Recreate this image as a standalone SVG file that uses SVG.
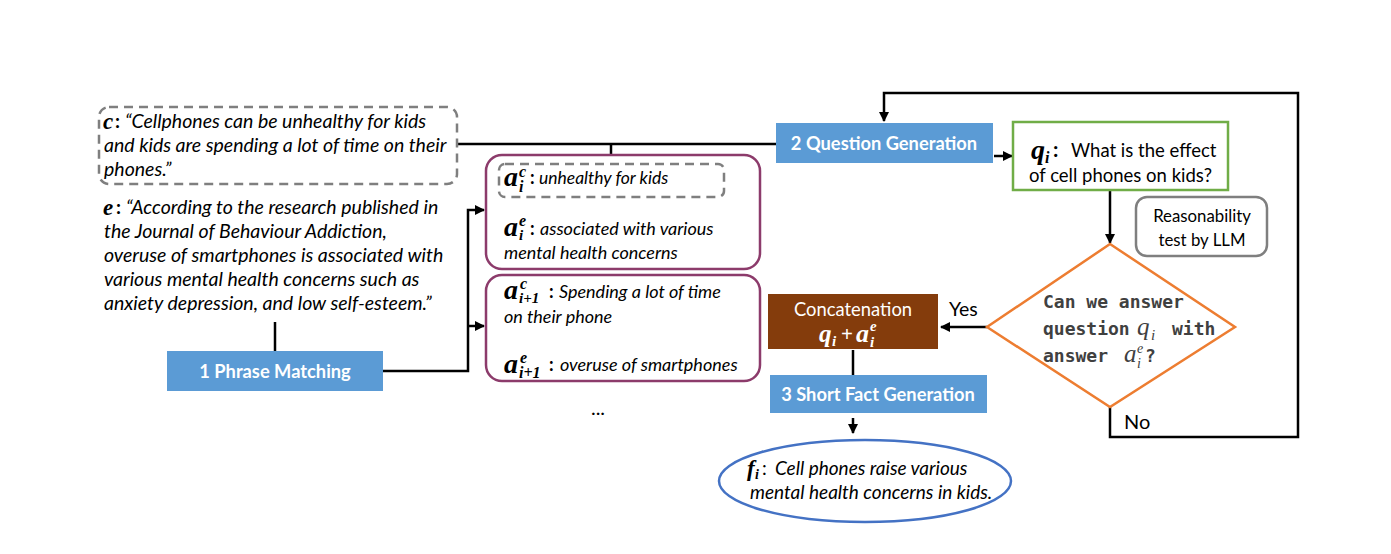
<svg xmlns="http://www.w3.org/2000/svg" width="1391" height="554" viewBox="0 0 1391 554">
<defs>
<marker id="arr" markerWidth="10" markerHeight="10" refX="9" refY="5" orient="auto" markerUnits="userSpaceOnUse">
<path d="M0,0 L10,5 L0,10 Z" fill="#000"/>
</marker>
<style>
.t{font-family:Lato,"Liberation Sans",sans-serif;fill:#000}
.it{font-style:italic}
.m{font-family:"Liberation Serif",serif;font-style:italic;font-weight:bold}
.mn{font-family:"Liberation Serif",serif;font-style:italic;font-weight:normal;fill:#404040}
.bx{font-family:Lato,"Liberation Sans",sans-serif;font-weight:bold;font-size:18.3px;fill:#fff;text-anchor:middle}
.blue{fill:#5b9bd5}
.dash{fill:none;stroke:#7f7f7f;stroke-width:2.5;stroke-dasharray:9,6}
.plum{fill:#fff;stroke:#8c3b6b;stroke-width:2.5}
.mono{font-family:"DejaVu Sans Mono",monospace;font-weight:bold;font-size:18px;fill:#404040}
.ln{fill:none;stroke:#000;stroke-width:2.5}
</style>
</defs>
<rect width="1391" height="554" fill="#fff"/>

<g id="connectors">
<path class="ln" d="M457,144 H776"/>
<path class="ln" d="M611,144 V164"/>
<path class="ln" d="M275,322 V351"/>
<path class="ln" d="M383,371 H468 V210 H484" marker-end="url(#arr)"/>
<path class="ln" d="M468,326 H484" marker-end="url(#arr)"/>
<path class="ln" d="M994,156 H1012" marker-end="url(#arr)"/>
<path class="ln" d="M1110,190 V243" marker-end="url(#arr)"/>
<path class="ln" d="M987,327 H941" marker-end="url(#arr)"/>
<path class="ln" d="M853,350 V375"/>
<path class="ln" d="M853,418 V433" marker-end="url(#arr)"/>
<path class="ln" d="M1110,407 V437 H1298 V93 H884 V121" marker-end="url(#arr)"/>
</g>

<g id="claim">
<rect class="dash" x="99" y="107" width="358" height="77" rx="10"/>
<text class="t"><tspan x="103" y="129" class="m" font-size="23">c</tspan><tspan x="115" y="128" font-weight="bold" font-size="19.5">:</tspan><tspan x="125" y="128" font-style="italic" font-size="19.5">“Cellphones can be unhealthy for kids</tspan></text>
<text class="t it" font-size="19.5" x="104" y="152">and kids are spending a lot of time on their</text>
<text class="t it" font-size="19.5" x="104" y="176">phones.”</text>
</g>

<g id="evidence">
<text class="t"><tspan x="103" y="215" class="m" font-size="23">e</tspan><tspan x="116" y="214" font-weight="bold" font-size="19.5">:</tspan><tspan x="126" y="214" font-style="italic" font-size="19.5">“According to the research published in</tspan></text>
<text class="t it" font-size="19.5" x="104" y="238">the Journal of Behaviour Addiction,</text>
<text class="t it" font-size="19.5" x="104" y="262">overuse of smartphones is associated with</text>
<text class="t it" font-size="19.5" x="104" y="286">various mental health concerns such as</text>
<text class="t it" font-size="19.5" x="104" y="310">anxiety depression, and low self-esteem.”</text>
</g>

<g id="phrase-matching">
<rect class="blue" x="167" y="351" width="216" height="40"/>
<text class="bx" x="275" y="378">1 Phrase Matching</text>
</g>

<g id="pair-i">
<rect class="plum" x="486" y="155" width="274" height="114" rx="16"/>
<rect class="dash" x="499" y="164" width="225" height="33" rx="6"/>
<text class="t"><tspan x="504" y="186" class="m" font-size="28">a</tspan><tspan x="519" y="177" class="m" font-size="16">c</tspan><tspan x="519" y="192" class="m" font-size="16">i</tspan><tspan x="530" y="184" font-weight="bold" font-size="18">:</tspan><tspan x="539" y="184" font-style="italic" font-size="17.5">unhealthy for kids</tspan></text>
<text class="t"><tspan x="504" y="236" class="m" font-size="28">a</tspan><tspan x="519" y="226" class="m" font-size="16">e</tspan><tspan x="519" y="240" class="m" font-size="15">i</tspan><tspan x="530" y="235" font-weight="bold" font-size="18">:</tspan><tspan x="540" y="235" font-style="italic" font-size="18">associated with various</tspan></text>
<text class="t it" font-size="18" x="504" y="259">mental health concerns</text>
</g>

<g id="pair-i1">
<rect class="plum" x="486" y="275" width="274" height="106" rx="16"/>
<text class="t"><tspan x="504" y="299" class="m" font-size="28">a</tspan><tspan x="520" y="289" class="m" font-size="16">c</tspan><tspan x="519" y="303" class="m" font-size="15">i+1</tspan><tspan x="549" y="298" font-weight="bold" font-size="18">:</tspan><tspan x="559" y="298" font-style="italic" font-size="18">Spending a lot of time</tspan></text>
<text class="t it" font-size="18" x="504" y="323">on their phone</text>
<text class="t"><tspan x="504" y="373" class="m" font-size="28">a</tspan><tspan x="520" y="363" class="m" font-size="16">e</tspan><tspan x="519" y="378" class="m" font-size="16">i+1</tspan><tspan x="549" y="371" font-weight="bold" font-size="18">:</tspan><tspan x="560" y="371" font-style="italic" font-size="18">overuse of smartphones</tspan></text>
</g>

<g id="ellipsis">
<text class="t" font-size="20" x="598" y="415" text-anchor="middle">...</text>
</g>

<g id="question-generation">
<rect class="blue" x="776" y="123" width="217" height="40"/>
<text class="bx" x="884" y="150">2 Question Generation</text>
</g>

<g id="question">
<rect x="1013" y="122" width="215" height="68" fill="#fff" stroke="#70ad47" stroke-width="2.5"/>
<text class="t"><tspan x="1031" y="159" class="m" font-size="28">q</tspan><tspan x="1045" y="163" class="m" font-size="16">i</tspan><tspan x="1053" y="157" font-weight="bold" font-size="21">:</tspan><tspan x="1071" y="157" font-size="18.5">What is the effect</tspan></text>
<text class="t" font-size="18.5" x="1029" y="182">of cell phones on kids?</text>
</g>

<g id="reasonability">
<rect x="1136" y="197" width="131" height="59" rx="11" fill="#fff" stroke="#7f7f7f" stroke-width="2.5"/>
<text class="t" font-size="16.8" x="1202" y="222" text-anchor="middle">Reasonability</text>
<text class="t" font-size="16.8" x="1202" y="246" text-anchor="middle">test by LLM</text>
</g>

<g id="decision">
<polygon points="1110,244 1235,327 1110,407 987,327" fill="#fff" stroke="#ed7d31" stroke-width="2.5"/>
<text class="mono" x="1043" y="308">Can we answer</text>
<text class="mono" x="1043" y="335">question</text>
<text class="mn" font-size="25" x="1137" y="335">q</text>
<text class="mn" font-size="15" x="1151" y="340">i</text>
<text class="mono" x="1172" y="335">with</text>
<text class="mono" x="1043" y="362">answer</text>
<text class="mn" font-size="25" x="1124" y="362">a</text>
<text class="mn" font-size="14" x="1137" y="353">e</text>
<text class="mn" font-size="14" x="1137" y="368">i</text>
<text class="mono" x="1145" y="362">?</text>
</g>

<g id="yes-label"><text class="t" font-size="19.5" x="949" y="316">Yes</text></g>
<g id="no-label"><text class="t" font-size="20" x="1124" y="429">No</text></g>

<g id="concatenation">
<rect x="768" y="294" width="170" height="55" fill="#843c0c"/>
<text class="t" font-size="18.4" style="fill:#fff" x="853" y="316" text-anchor="middle">Concatenation</text>
<text fill="#fff"><tspan x="819" y="342" class="m" font-size="25">q</tspan><tspan x="832" y="346" class="m" font-size="15">i</tspan><tspan x="841" y="341" font-family="Liberation Serif,serif" font-weight="bold" font-size="21">+</tspan><tspan x="856" y="342" class="m" font-size="26">a</tspan><tspan x="870" y="331" class="m" font-size="15">e</tspan><tspan x="870" y="347" class="m" font-size="15">i</tspan></text>
</g>

<g id="short-fact-generation">
<rect class="blue" x="770" y="375" width="217" height="38"/>
<text class="bx" x="878" y="401">3 Short Fact Generation</text>
</g>

<g id="fact">
<ellipse cx="865" cy="481" rx="146" ry="41" fill="#fff" stroke="#4472c4" stroke-width="2.5"/>
<text class="t"><tspan x="747" y="476" class="m" font-size="23">f</tspan><tspan x="755" y="479" class="m" font-size="14">i</tspan><tspan x="762" y="475" font-size="19">:</tspan><tspan x="775" y="475" font-style="italic" font-size="19">Cell phones raise various</tspan></text>
<text class="t it" font-size="19" x="750" y="499">mental health concerns in kids.</text>
</g>
</svg>
